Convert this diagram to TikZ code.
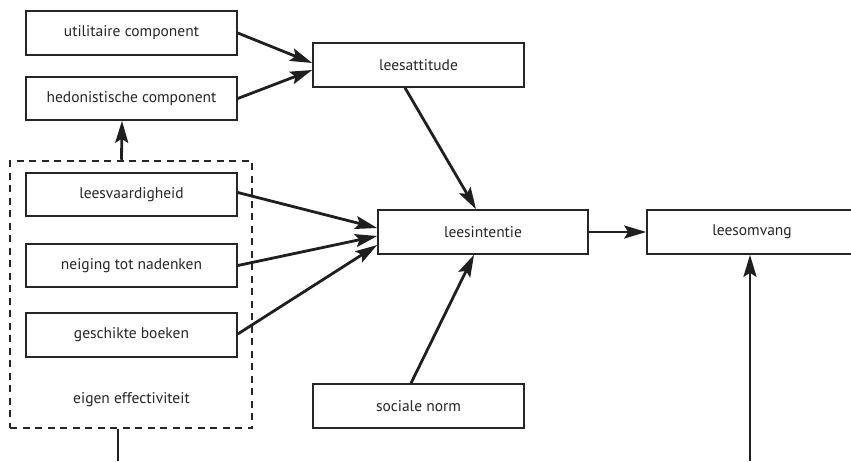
\documentclass[tikz,border=0pt]{standalone}
\usepackage{fontspec}
\setmainfont{PT Sans}
\usetikzlibrary{arrows.meta}
\begin{document}
\begin{tikzpicture}[x=1pt,y=-1pt,
  box/.style={draw=black!85, line width=1.6pt, minimum width=211pt, minimum height=44pt, inner sep=0pt, font=\fontsize{15.5}{18.5}\selectfont, text=black!85},
  grp/.style={draw=black!85, line width=2.5pt, dash pattern=on 7pt off 5.5pt, minimum width=242pt, minimum height=267pt, inner sep=0pt},
  conn/.style={line width=2.8pt, draw=black!88, -{Stealth[length=22pt,width=13pt,inset=4pt]}},
  plain/.style={line width=2.8pt, draw=black!88}]
\useasboundingbox (0,0) rectangle (851,461);
\node[grp] (eff) at (131,294.5) {};
\node[box] (util) at (131.5,33) {utilitaire component};
\node[box, minimum height=43pt] (hedon) at (131.5,98.5) {hedonistische component};
\node[box, minimum height=43pt] (lvh) at (131.5,194.5) {leesvaardigheid};
\node[box, minimum height=43pt] (neig) at (131.5,265.5) {neiging tot nadenken};
\node[box] (gesch) at (131.5,335) {geschikte boeken};
\node[font=\fontsize{15.5}{18.5}\selectfont, text=black!85] (efflabel) at (131.5,400) {eigen effectiviteit};
\node[box] (att) at (418.5,65) {leesattitude};
\node[box, minimum width=210pt] (int) at (483,232) {leesintentie};
\node[box, minimum width=210pt] (omv) at (752,232) {leesomvang};
\node[box] (norm) at (418.5,406) {sociale norm};
\coordinate (inA) at (118,461);
\coordinate (inB) at (750,461);
\draw[conn] (util.east) -- ([yshift=2pt]att.west);
\draw[conn] (hedon.east) -- ([yshift=-5pt]att.west);
\draw[conn] ([xshift=-9.5pt]eff.north) -- ([xshift=-9.5pt]hedon.south);
\draw[conn] ([yshift=2pt]lvh.east) -- ([yshift=4pt]int.west);
\draw[conn] (neig.east) -- ([yshift=-4pt]int.west);
\draw[conn] ([yshift=1pt]gesch.east) -- ([yshift=-13pt]int.west);
\draw[conn] ([xshift=-13.5pt]att.south) -- ([xshift=-7pt]int.north);
\draw[conn] ([xshift=-7.5pt]norm.north) -- ([xshift=-9pt]int.south);
\draw[conn] (int.east) -- (omv.west);
\draw[conn] (inB) -- ([xshift=-2pt]omv.south);
\draw[plain] ([xshift=-13pt]eff.south) -- (inA);
\end{tikzpicture}
\end{document}
